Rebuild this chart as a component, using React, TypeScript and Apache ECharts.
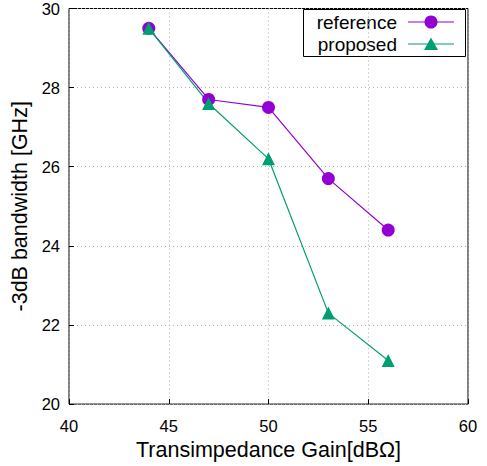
import React, { useEffect, useRef } from "react";
import * as echarts from "echarts";

const gains = [44, 47, 50, 53, 56];
const referenceBw = [29.5, 27.7, 27.5, 25.7, 24.4];
const proposedBw = [29.5, 27.6, 26.2, 22.3, 21.1];
const seriesNames = ["reference", "proposed"];
const colors = ["#9400D3", "#009E73"];

export default function App() {
  const ref = useRef<HTMLDivElement>(null);
  useEffect(() => {
    const chart = echarts.init(ref.current!, null, { renderer: "svg" });
    const font = "Liberation Sans, Arial, sans-serif";
    chart.setOption({
      animation: false,
      grid: { left: 69, top: 6, width: 399, height: 400, show: true, borderColor: "#000", borderWidth: 1, backgroundColor: "transparent" },
      xAxis: {
        type: "value", min: 40, max: 60, interval: 5,
        name: "Transimpedance Gain[dBΩ]", nameLocation: "middle", nameGap: 24,
        nameTextStyle: { fontSize: 21.5, color: "#000", fontFamily: font },
        axisLine: { show: false },
        axisTick: { show: true, inside: true, length: 5, lineStyle: { color: "#000" } },
        axisLabel: { fontSize: 16.5, color: "#000", fontFamily: font, margin: 13 },
        splitLine: { show: true, lineStyle: { color: "#b0b0b0", type: [1, 3], width: 1 } },
      },
      yAxis: {
        type: "value", min: 20, max: 30, interval: 2,
        name: "-3dB bandwidth [GHz]", nameLocation: "middle", nameGap: 38,
        nameTextStyle: { fontSize: 21.5, color: "#000", fontFamily: font },
        axisLine: { show: false },
        axisTick: { show: true, inside: true, length: 5, lineStyle: { color: "#000" } },
        axisLabel: { fontSize: 16.5, color: "#000", fontFamily: font, margin: 9 },
        splitLine: { show: true, lineStyle: { color: "#b0b0b0", type: [1, 3], width: 1 } },
      },
      series: [
        {
          name: seriesNames[0], type: "line",
          data: gains.map((g, i) => [g, referenceBw[i]]),
          symbol: "circle", symbolSize: 13,
          lineStyle: { color: colors[0], width: 1.2 }, itemStyle: { color: colors[0] },
        },
        {
          name: seriesNames[1], type: "line",
          data: gains.map((g, i) => [g, proposedBw[i]]),
          symbol: "triangle", symbolSize: 13,
          lineStyle: { color: colors[1], width: 1.2 }, itemStyle: { color: colors[1] },
        },
      ],
      graphic: [
        { type: "rect", shape: { x: 303.5, y: 9.5, width: 162, height: 47 }, style: { fill: "#fff", stroke: "#000", lineWidth: 1 } },
        { type: "text", x: 397, y: 22, style: { text: seriesNames[0], font: `19px ${font}`, fill: "#000", align: "right", verticalAlign: "middle" } },
        { type: "text", x: 397, y: 44, style: { text: seriesNames[1], font: `19px ${font}`, fill: "#000", align: "right", verticalAlign: "middle" } },
        { type: "line", shape: { x1: 408, y1: 22, x2: 454, y2: 22 }, style: { stroke: colors[0], lineWidth: 1.2 } },
        { type: "circle", shape: { cx: 431, cy: 22, r: 6.5 }, style: { fill: colors[0] } },
        { type: "line", shape: { x1: 408, y1: 44, x2: 454, y2: 44 }, style: { stroke: colors[1], lineWidth: 1.2 } },
        { type: "polygon", shape: { points: [[431, 37.5], [424, 50], [438, 50]] }, style: { fill: colors[1] } },
      ],
    });
    return () => chart.dispose();
  }, []);
  return <div ref={ref} style={{ width: 487, height: 466, position: "absolute", left: 0, top: 0 }} />;
}
